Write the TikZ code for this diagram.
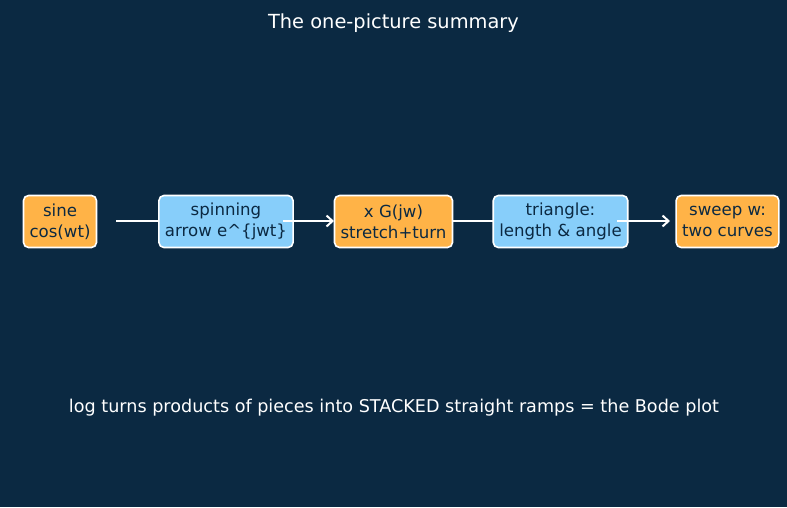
\documentclass[tikz,border=0pt]{standalone}
\usepackage{fontspec}
\setmainfont{DejaVu Sans}
\usetikzlibrary{arrows.meta}
\definecolor{bg}{HTML}{0B2942}
\definecolor{orng}{HTML}{FFB347}
\definecolor{skyb}{HTML}{87CEFA}
\tikzset{
  box/.style={draw=white, line width=1.6pt, rounded corners=5pt, text=bg,
    align=center, inner xsep=6pt, minimum height=52pt,
    font=\fontsize{16.6pt}{21pt}\selectfont},
  obox/.style={box, fill=orng},
  bbox/.style={box, fill=skyb},
  conn/.style={draw=white, line width=2pt, -{Straight Barb[length=6pt,width=11pt,line width=2pt]}},
  lbl/.style={text=white}
}
\begin{document}
\begin{tikzpicture}[x=1pt,y=-1pt]
\fill[bg] (0,0) rectangle (787,507);
\useasboundingbox (0,0) rectangle (787,507);
\node[lbl, font=\fontsize{19.4pt}{23pt}\selectfont] (title) at (393.5,23.5) {The one-picture summary};
\coordinate (a1s) at (116,221); \coordinate (a1e) at (168,221);
\coordinate (a2s) at (283,221); \coordinate (a2e) at (334,221);
\coordinate (a3s) at (452,221); \coordinate (a3e) at (505,221);
\coordinate (a4s) at (617,221); \coordinate (a4e) at (670,221);
\node[obox] (b1) at (60,221.5) {sine\\cos(wt)};
\draw[conn] (a1s) -- (a1e);
\node[bbox] (b2) at (226,221.5) {spinning\\arrow e\^{}\{jwt\}};
\draw[conn] (a2s) -- (a2e);
\node[obox] (b3) at (393.5,221.5) {x G(jw)\\stretch+turn};
\draw[conn] (a3s) -- (a3e);
\node[bbox] (b4) at (560.5,221.5) {triangle:\\length \& angle};
\draw[conn] (a4s) -- (a4e);
\node[obox] (b5) at (727.5,221.5) {sweep w:\\two curves};
\node[lbl, font=\fontsize{17.6pt}{22pt}\selectfont] (foot) at (394,407.5) {log turns products of pieces into STACKED straight ramps = the Bode plot};
\end{tikzpicture}
\end{document}
